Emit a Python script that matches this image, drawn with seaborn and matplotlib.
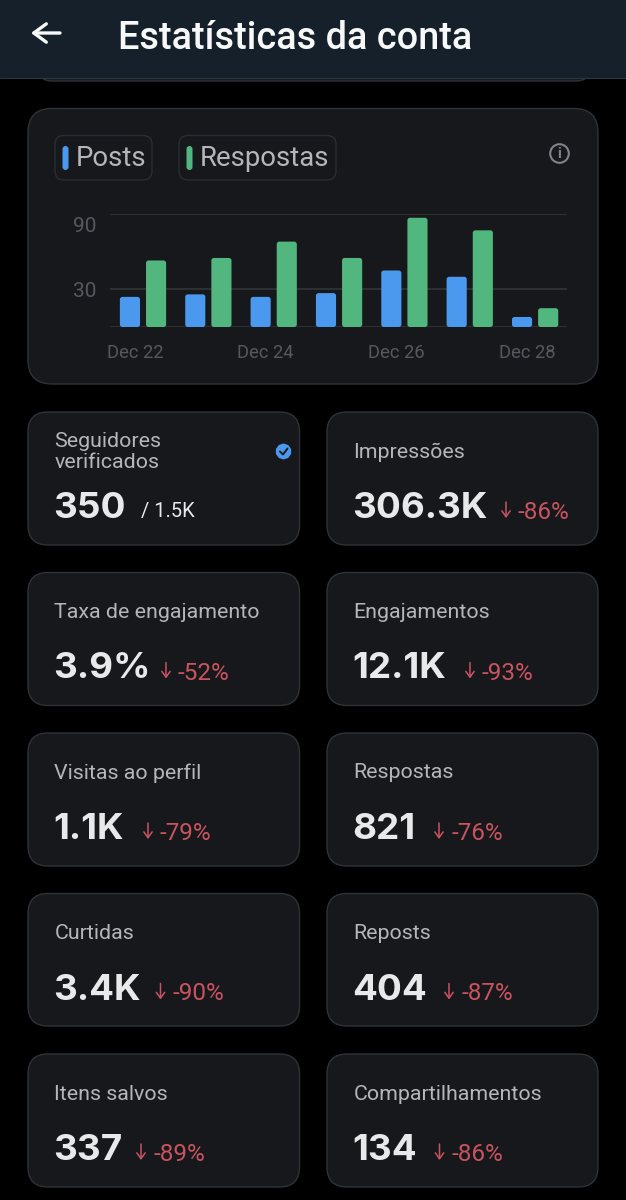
import numpy as np
import pandas as pd
import seaborn as sns
import matplotlib
matplotlib.use("Agg")
import matplotlib.pyplot as plt
from matplotlib.patches import FancyBboxPatch, Circle, Rectangle, RegularPolygon
from matplotlib.transforms import ScaledTranslation

# ---------- data ----------
dates = ["Dec 22", "Dec 23", "Dec 24", "Dec 25", "Dec 26", "Dec 27", "Dec 28"]
posts = [24, 26, 24, 27, 45, 40, 8]
respostas = [53, 55, 68, 55, 87, 77, 15]
series_names = ["Posts", "Respostas"]
series_colors = ["#4a99ee", "#52b67f"]
tick_values = [0, 30, 90]
tick_labels = ["", "30", "90"]
title = "Estatísticas da conta"
card_labels = ["Seguidores\nverificados", "Impressões", "Taxa de engajamento", "Engajamentos",
               "Visitas ao perfil", "Respostas", "Curtidas", "Reposts", "Itens salvos", "Compartilhamentos"]
card_values = ["350", "306.3K", "3.9%", "12.1K", "1.1K", "821", "3.4K", "404", "337", "134"]
card_changes = ["/ 1.5K", "-86%", "-52%", "-93%", "-79%", "-76%", "-90%", "-87%", "-89%", "-86%"]
change_x = [141, 518, 178, 482, 160, 451, 172.5, 461, 153, 451.5]

W, H = 626, 1200
BG, CARD, EDGE = "#000000", "#16181c", "#2f3336"
TXT, LAB, DIM, RED = "#e7e9ea", "#b4b6b9", "#55585c", "#c9545f"
FAM = ["Roboto", "DejaVu Sans"]

sns.set_theme(style="dark")
plt.rcParams["font.family"] = FAM
fig = plt.figure(figsize=(W / 100, H / 100), dpi=100, facecolor=BG)

bg = fig.add_axes([0, 0, 1, 1], zorder=0)
bg.set_xlim(0, W); bg.set_ylim(H, 0); bg.axis("off"); bg.set_facecolor(BG)

def card(x0, y0, x1, y1, r=20, fc=CARD, ec=EDGE, lw=1.0):
    bg.add_patch(FancyBboxPatch((x0, y0), x1 - x0, y1 - y0, boxstyle=f"round,pad=0,rounding_size={r}",
                                fc=fc, ec=ec, lw=lw))

# header with the card that scrolls under it
card(38, 40, 590, 81, r=14)
bg.add_patch(Rectangle((0, 0), W, 78, fc="#15202b", ec="none"))
bg.plot([0, W], [78, 78], color="#2a3640", lw=0.8)
bg.text(118, 38.5, title, color="#f7f9f9", fontsize=27.3, va="center", ha="left", fontweight="medium")
bg.annotate("", xy=(31, 33), xytext=(60, 33),
            arrowprops=dict(arrowstyle="->,head_length=0.75,head_width=0.55", color="#f7f9f9", lw=2.4, shrinkA=0, shrinkB=0))

# chart card
card(28, 108.5, 598, 384, r=24)
legend_boxes = [(55, 135.5, 152, 180), (179, 135.5, 336, 180)]
for (x0, y0, x1, y1), name, col in zip(legend_boxes, series_names, series_colors):
    card(x0, y0, x1, y1, r=9, fc=CARD, ec="#2a2d31")
    bg.add_patch(FancyBboxPatch((x0 + 7.5, 146), 6, 24, boxstyle="round,pad=0,rounding_size=3", fc=col, ec="none"))
    bg.text(x0 + 20.5, 159, name, color=LAB, fontsize=19.8, va="center", ha="left")
# info icon
bg.add_patch(Circle((559.5, 153.5), 9.3, fc="none", ec="#808488", lw=1.5))
bg.text(559.5, 154, "i", color="#808488", fontsize=10.5, ha="center", va="center", fontweight="bold")

# chart
ax = fig.add_axes([110 / W, 1 - 327 / H, (567 - 110) / W, (327 - 214) / H], zorder=2)
ax.patch.set_alpha(0)
df = pd.DataFrame({"date": dates * 2,
                   "value": posts + respostas,
                   "series": [series_names[0]] * len(dates) + [series_names[1]] * len(dates)})
sns.barplot(data=df, x="date", y="value", hue="series", palette=series_colors, ax=ax,
            width=0.8, gap=0.23, legend=False, saturation=1, zorder=3)
ax.set_xlim(-0.505, 6.488); ax.set_ylim(0, 90)
aspect = (90 / 113) / (7 / 457)
for p in list(ax.patches):
    x, y, w, h = p.get_x(), p.get_y(), p.get_width(), p.get_height()
    if h <= 0:
        p.remove(); continue
    ax.add_patch(FancyBboxPatch((x, y), w, h, boxstyle="round,pad=0,rounding_size=0.04",
                                mutation_aspect=aspect, fc=p.get_facecolor(), ec="none", zorder=3, clip_on=False))
    p.remove()
ax.set_xlabel(""); ax.set_ylabel("")
for s in ax.spines.values():
    s.set_visible(False)
ax.set_yticks(tick_values, tick_labels)
ax.set_xticks([0, 2, 4, 6], [dates[0], dates[2], dates[4], dates[6]])
ax.grid(False)
ax.yaxis.grid(True, color=EDGE, lw=1.3, zorder=0)
ax.set_axisbelow(True)
ax.tick_params(axis="both", length=0, colors=DIM, labelsize=13.2)
ax.tick_params(axis="y", labelsize=15, pad=10)
ax.tick_params(axis="x", pad=12)
for lab in ax.get_xticklabels():
    lab.set_transform(lab.get_transform() + ScaledTranslation(-8 / 100, 0, fig.dpi_scale_trans))
for lab, t in zip(ax.get_yticklabels(), tick_labels):
    if t == "90":
        lab.set_transform(lab.get_transform() + ScaledTranslation(0, -11 / 100, fig.dpi_scale_trans))

# stat cards
xs = [(28, 299.5), (327, 598)]
ys = [(412, 545), (572.5, 705.5), (733, 866), (893.5, 1026), (1054, 1187)]
for i, (lab, val, chg, cx) in enumerate(zip(card_labels, card_values, card_changes, change_x)):
    col = i % 2
    row = i // 2
    x0, x1 = xs[col]
    y0, y1 = ys[row]
    card(x0, y0, x1, y1, r=20)
    tx = x0 + 26.5
    bg.text(tx, y0 + 40, lab, color=LAB, fontsize=15.4, va="center", ha="left", linespacing=1.15)
    bg.text(tx - 1, y0 + 96.5, val, color=TXT, fontsize=26.5, va="center", ha="left", fontweight="bold",
            family=["Inter", "DejaVu Sans"])
    if i == 0:
        bg.text(cx, y0 + 99, chg, color=TXT, fontsize=14.5, va="center", ha="left")
        # verified badge
        bg.add_patch(RegularPolygon((283.5, 451.5), 10, radius=8, fc="#4a99ee", ec="none"))
        bg.plot([280, 283, 287.5], [451.5, 454.5, 448.5], color=CARD, lw=1.4)
    else:
        bg.annotate("", xy=(cx - 12, y0 + 106), xytext=(cx - 12, y0 + 90),
                    arrowprops=dict(arrowstyle="->,head_length=0.35,head_width=0.25", color=RED, lw=1.1, shrinkA=0, shrinkB=0))
        bg.text(cx, y0 + 100.5, chg, color=RED, fontsize=17.5, va="center", ha="left")

fig.savefig("out.png", dpi=100, facecolor=BG)
